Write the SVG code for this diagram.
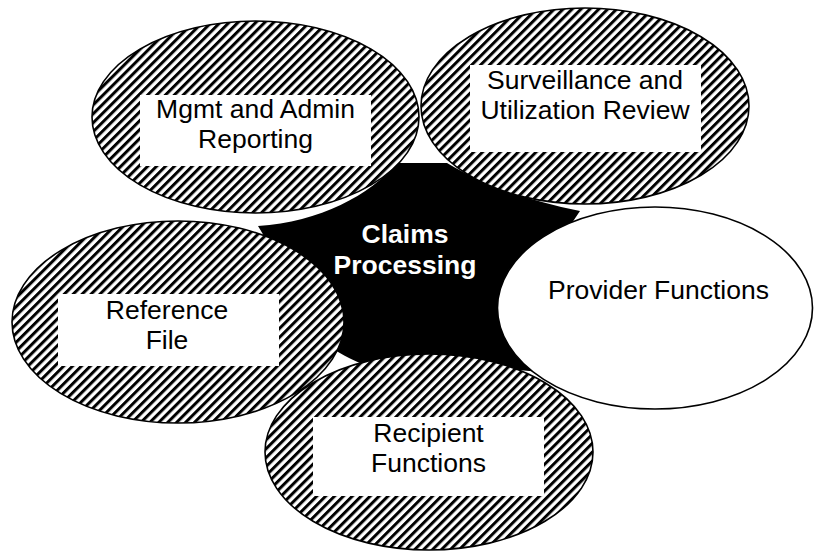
<svg xmlns="http://www.w3.org/2000/svg" width="814" height="552" viewBox="0 0 814 552">
<defs>
<pattern id="hatch" patternUnits="userSpaceOnUse" width="6.3" height="10" patternTransform="rotate(45)">
<rect x="0" y="0" width="6.3" height="10" fill="#fff"/>
<rect x="0" y="0" width="3" height="10" fill="#000"/>
</pattern>
</defs>
<style>
.hat{fill:url(#hatch);stroke:#000;stroke-width:1.6}
.plain{fill:#fff;stroke:#000;stroke-width:1.6}
.box{fill:#fff;stroke:none}
.lbl{font-family:"Liberation Sans",Arial,sans-serif;font-size:26.5px;fill:#000;text-anchor:middle}
.ctr{font-family:"Liberation Sans",Arial,sans-serif;font-size:26.5px;font-weight:bold;fill:#fff;text-anchor:middle}
</style>
<rect width="814" height="552" fill="#fff"/>
<g id="claims-processing">
<path d="M 258 226 C 320 222 370 195 397 163 L 447 163 C 485 186 530 201 580 211 C 545 260 530 310 540 372 C 480 365 420 372 362 364 C 330 350 300 330 290 300 C 280 270 270 245 258 226 Z" fill="#000"/>
</g>
<g id="mgmt-admin">
<ellipse class="hat" cx="255.5" cy="117" rx="163.5" ry="96"/>
<rect class="box" x="140" y="95" width="231" height="71"/>
<text class="lbl" x="255.5" y="118">Mgmt and Admin</text>
<text class="lbl" x="255.5" y="148">Reporting</text>
</g>
<g id="surveillance">
<ellipse class="hat" cx="585" cy="106" rx="164" ry="98"/>
<rect class="box" x="470" y="65" width="231" height="87"/>
<text class="lbl" x="585" y="89">Surveillance and</text>
<text class="lbl" x="585" y="119">Utilization Review</text>
</g>
<g id="claims-label">
<text class="ctr" x="405" y="243">Claims</text>
<text class="ctr" x="405" y="274">Processing</text>
</g>
<g id="reference-file">
<ellipse class="hat" cx="178" cy="322" rx="166" ry="101"/>
<rect class="box" x="58" y="294" width="221" height="72"/>
<text class="lbl" x="167" y="319">Reference</text>
<text class="lbl" x="167" y="349">File</text>
</g>
<g id="recipient">
<ellipse class="hat" cx="429" cy="452" rx="164" ry="98"/>
<rect class="box" x="313" y="417" width="231" height="79"/>
<text class="lbl" x="428.5" y="442">Recipient</text>
<text class="lbl" x="428.5" y="472">Functions</text>
</g>
<g id="provider">
<ellipse class="plain" cx="655" cy="308" rx="157.5" ry="101"/>
<text class="lbl" x="658.5" y="299">Provider Functions</text>
</g>
<g id="connectors"></g>
</svg>
